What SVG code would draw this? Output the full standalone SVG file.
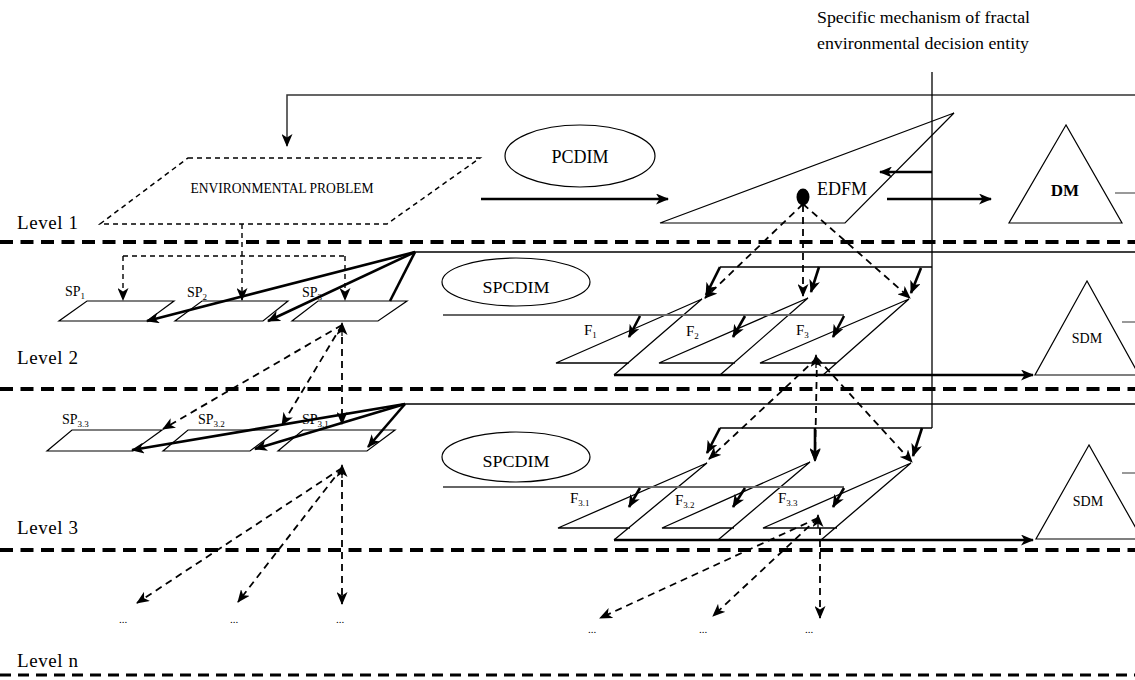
<svg xmlns="http://www.w3.org/2000/svg" width="1135" height="680" viewBox="0 0 1135 680">
<defs>
<marker id="ah" markerUnits="userSpaceOnUse" markerWidth="13" markerHeight="11" viewBox="0 0 13 11" refX="12" refY="5.5" orient="auto">
<path d="M0,0 L13,5.5 L0,11 L3.5,5.5 Z" fill="#000"/>
</marker>
<style>
text{font-family:"Liberation Serif","Times New Roman",serif;fill:#000}
.thin{fill:none;stroke:#000;stroke-width:1.3}
.grey{fill:none;stroke:#666;stroke-width:2}
.thick{fill:none;stroke:#000;stroke-width:2.6}
.dash{fill:none;stroke:#000;stroke-width:1.8;stroke-dasharray:7 5}
.fine{fill:none;stroke:#000;stroke-width:1.4;stroke-dasharray:5 4}
.lvl{fill:none;stroke:#000;stroke-width:4;stroke-dasharray:13 7.5}
.lvln{fill:none;stroke:#000;stroke-width:2.8;stroke-dasharray:11 7}
.arr{marker-end:url(#ah)}
.shape{fill:#fff;stroke:#000;stroke-width:1.2}
</style>
</defs>
<rect width="1135" height="680" fill="#fff"/>

<!-- level separators -->
<g id="levels">
<line class="lvl" x1="0" y1="242" x2="1135" y2="242"/>
<line class="lvl" x1="0" y1="389" x2="1135" y2="389"/>
<line class="lvl" x1="0" y1="550" x2="1135" y2="550"/>
<line class="lvln" x1="0" y1="675" x2="1135" y2="675"/>
<text x="17" y="229" font-size="19" letter-spacing="0.6">Level 1</text>
<text x="17" y="364" font-size="19" letter-spacing="0.6">Level 2</text>
<text x="17" y="534" font-size="19" letter-spacing="0.6">Level 3</text>
<text x="17" y="667" font-size="19" letter-spacing="0.6">Level n</text>
</g>

<g id="title">
<text x="817" y="23" font-size="16" textLength="213" lengthAdjust="spacingAndGlyphs">Specific mechanism of fractal</text>
<text x="817" y="49" font-size="16" textLength="212" lengthAdjust="spacingAndGlyphs">environmental decision entity</text>
</g>

<!-- Level 1 nodes -->
<g id="env-problem">
<polygon points="188,158 480,158 387,224 100,224" fill="none" stroke="#000" stroke-width="1.5" stroke-dasharray="5 4"/>
<text x="282" y="193" font-size="14" text-anchor="middle" textLength="183" lengthAdjust="spacingAndGlyphs">ENVIRONMENTAL PROBLEM</text>
</g>
<g id="pcdim">
<ellipse cx="580" cy="156" rx="75" ry="31" class="shape"/>
<text x="580" y="163" font-size="18" text-anchor="middle">PCDIM</text>
</g>
<g id="edfm">
<polygon points="660,223 954,113 845,223" class="shape"/>
<ellipse cx="803" cy="197" rx="6.5" ry="8.5" fill="#000"/>
<text x="842" y="195" font-size="18" text-anchor="middle">EDFM</text>
</g>
<g id="dm">
<polygon points="1066,125 1009,223 1122,223" class="shape"/>
<text x="1065" y="196" font-size="17" font-weight="bold" text-anchor="middle">DM</text>
<line x1="1115" y1="193" x2="1135" y2="193" stroke="#777" stroke-width="1.5"/>
</g>

<!-- Level 2 nodes -->
<g id="sp1">
<polygon points="87,301 174,301 147,321 59,321" class="shape"/>
<text x="65" y="296" font-size="14">SP<tspan font-size="9" dy="3">1</tspan></text>
</g>
<g id="sp2">
<polygon points="202,301 288,301 263,321 175,321" class="shape"/>
<text x="187" y="297" font-size="14">SP<tspan font-size="9" dy="3">2</tspan></text>
</g>
<g id="sp3">
<polygon points="318,301 407,301 378,321 292,321" class="shape"/>
<text x="302" y="297" font-size="14">SP<tspan font-size="9" dy="3">3</tspan></text>
</g>
<g id="spcdim-2">
<ellipse cx="516" cy="282" rx="74" ry="24" class="shape"/>
<text x="516" y="293" font-size="17" text-anchor="middle" textLength="67" lengthAdjust="spacingAndGlyphs">SPCDIM</text>
</g>
<g id="f1">
<path class="thin" d="M702,299 L556,363 L629,363 M702,299 L614,375"/>
<text x="584" y="335" font-size="15">F<tspan font-size="9" dy="3">1</tspan></text>
</g>
<g id="f2">
<path class="thin" d="M808,298 L659,363 L735,363 M808,298 L720,375"/>
<text x="686" y="336" font-size="15">F<tspan font-size="9" dy="3">2</tspan></text>
</g>
<g id="f3">
<path class="thin" d="M909,299 L760,363 L837,363 M909,299 L823,375"/>
<text x="796" y="335" font-size="15">F<tspan font-size="9" dy="3">3</tspan></text>
</g>
<g id="sdm-2">
<polygon points="1087,281 1035,375 1139,375" class="shape"/>
<text x="1087" y="343" font-size="14" text-anchor="middle">SDM</text>
<line x1="1122" y1="322" x2="1135" y2="322" stroke="#777" stroke-width="1.5"/>
</g>

<!-- Level 3 nodes -->
<g id="sp33">
<polygon points="72,430 162,430 133,451 47,451" class="shape"/>
<text x="62" y="424" font-size="14">SP<tspan font-size="9" dy="3">3.3</tspan></text>
</g>
<g id="sp32">
<polygon points="188,430 278,430 250,451 163,451" class="shape"/>
<text x="198" y="424" font-size="14">SP<tspan font-size="9" dy="3">3.2</tspan></text>
</g>
<g id="sp31">
<polygon points="303,430 395,430 367,451 278,451" class="shape"/>
<text x="302" y="424" font-size="14">SP<tspan font-size="9" dy="3">3.1</tspan></text>
</g>
<g id="spcdim-3">
<ellipse cx="516" cy="457" rx="74" ry="25" class="shape"/>
<text x="516" y="467" font-size="17" text-anchor="middle" textLength="67" lengthAdjust="spacingAndGlyphs">SPCDIM</text>
</g>
<g id="f31">
<path class="thin" d="M707,463 L558,528 L630,528 M707,463 L614,540"/>
<text x="570" y="503" font-size="15">F<tspan font-size="9" dy="3">3.1</tspan></text>
</g>
<g id="f32">
<path class="thin" d="M810,462 L662,528 L734,528 M810,462 L718,540"/>
<text x="675" y="505" font-size="15">F<tspan font-size="9" dy="3">3.2</tspan></text>
</g>
<g id="f33">
<path class="thin" d="M911,463 L763,528 L837,528 M911,463 L821,540"/>
<text x="778" y="503" font-size="15">F<tspan font-size="9" dy="3">3.3</tspan></text>
</g>
<g id="sdm-3">
<polygon points="1089,445 1036,539 1142,539" class="shape"/>
<text x="1088" y="506" font-size="14" text-anchor="middle">SDM</text>
<line x1="1122" y1="473" x2="1135" y2="473" stroke="#777" stroke-width="1.5"/>
</g>

<!-- ellipsis placeholders -->
<g id="level-n" font-size="11">
<text x="123" y="623" text-anchor="middle">...</text>
<text x="234" y="623" text-anchor="middle">...</text>
<text x="340" y="623" text-anchor="middle">...</text>
<text x="592" y="633" text-anchor="middle">...</text>
<text x="703" y="633" text-anchor="middle">...</text>
<text x="809" y="633" text-anchor="middle">...</text>
</g>

<!-- connectors -->
<g id="connectors">
<!-- top feedback loop -->
<path d="M1135,95 L287,95 L287,146" fill="none" stroke="#333" stroke-width="1.5" class="arr"/>
<line x1="932" y1="72" x2="932" y2="428" stroke="#000" stroke-width="1.3"/>
<line class="thick arr" x1="932" y1="172" x2="880" y2="172"/>
<line class="thick arr" x1="481" y1="199" x2="668" y2="199"/>
<line class="thick arr" x1="887" y1="199" x2="991" y2="199"/>

<!-- env problem to SP level 2 -->
<line class="fine arr" x1="242" y1="224" x2="242" y2="300"/>
<path class="fine" d="M123,256 L345,256"/>
<line class="fine arr" x1="123" y1="256" x2="123" y2="300"/>
<line class="fine arr" x1="345" y1="256" x2="345" y2="300"/>

<!-- level 2 left solid -->
<line x1="415" y1="252" x2="1135" y2="252" stroke="#000" stroke-width="1.3"/>
<line class="thick arr" x1="415" y1="252" x2="147" y2="321"/>
<line class="thick arr" x1="415" y1="252" x2="268" y2="321"/>
<line class="thick" x1="415" y1="252" x2="390" y2="301"/>

<!-- SP3 to level 3 -->
<line class="dash arr" x1="342" y1="325" x2="163" y2="429"/>
<line class="dash arr" x1="342" y1="325" x2="282" y2="425"/>
<line class="dash arr" x1="342" y1="325" x2="342" y2="424"/>
<line class="thin arr" x1="342" y1="336" x2="342" y2="323"/>

<!-- level 3 left solid -->
<line x1="405" y1="404" x2="1135" y2="404" stroke="#000" stroke-width="1.3"/>
<line class="thick arr" x1="405" y1="404" x2="132" y2="450"/>
<line class="thick arr" x1="405" y1="404" x2="255" y2="449"/>
<line class="thick arr" x1="405" y1="404" x2="368" y2="447"/>

<!-- SP3.1 to level n -->
<line class="dash arr" x1="342" y1="468" x2="137" y2="603"/>
<line class="dash arr" x1="342" y1="468" x2="238" y2="602"/>
<line class="dash arr" x1="342" y1="468" x2="342" y2="604"/>
<line class="thin arr" x1="342" y1="478" x2="342" y2="465"/>

<!-- EDFM to level 2 F -->
<line class="dash arr" x1="803" y1="204" x2="705" y2="298"/>
<line class="dash arr" x1="803" y1="205" x2="803" y2="296"/>
<line class="dash arr" x1="803" y1="204" x2="910" y2="298"/>
<line x1="932" y1="267" x2="720" y2="267" stroke="#000" stroke-width="1.3"/>
<line class="thick arr" x1="720" y1="267" x2="706" y2="295"/>
<line class="thick arr" x1="819" y1="267" x2="811" y2="292"/>
<line class="thick arr" x1="921" y1="268" x2="911" y2="293"/>
<line class="grey" x1="443" y1="315" x2="844" y2="315"/>
<line class="thick arr" x1="640" y1="316" x2="629" y2="337"/>
<line class="thick arr" x1="745" y1="316" x2="733" y2="337"/>
<line class="thick arr" x1="844" y1="316" x2="833" y2="337"/>
<line class="thick arr" x1="614" y1="375" x2="1033" y2="375"/>

<!-- F3 to level 3 F -->
<line class="dash arr" x1="817" y1="358" x2="709" y2="459"/>
<line class="dash arr" x1="817" y1="358" x2="815" y2="461"/>
<line class="dash arr" x1="817" y1="358" x2="912" y2="462"/>
<line class="thin arr" x1="816" y1="368" x2="816" y2="355"/>
<line x1="932" y1="428" x2="720" y2="428" stroke="#000" stroke-width="1.3"/>
<line class="thick arr" x1="720" y1="428" x2="707" y2="453"/>
<line class="thick arr" x1="815" y1="428" x2="815" y2="460"/>
<line class="thick arr" x1="922" y1="428" x2="913" y2="456"/>
<line class="grey" x1="443" y1="487" x2="844" y2="487"/>
<line class="thick arr" x1="640" y1="488" x2="629" y2="507"/>
<line class="thick arr" x1="745" y1="488" x2="733" y2="507"/>
<line class="thick arr" x1="844" y1="488" x2="833" y2="507"/>
<line class="thick arr" x1="614" y1="540" x2="1033" y2="540"/>

<!-- F3.3 to level n -->
<line class="dash arr" x1="818" y1="518" x2="600" y2="618"/>
<line class="dash arr" x1="818" y1="518" x2="713" y2="616"/>
<line class="dash arr" x1="820" y1="528" x2="820" y2="618"/>
<line class="thin arr" x1="818" y1="528" x2="818" y2="515"/>
</g>
</svg>
